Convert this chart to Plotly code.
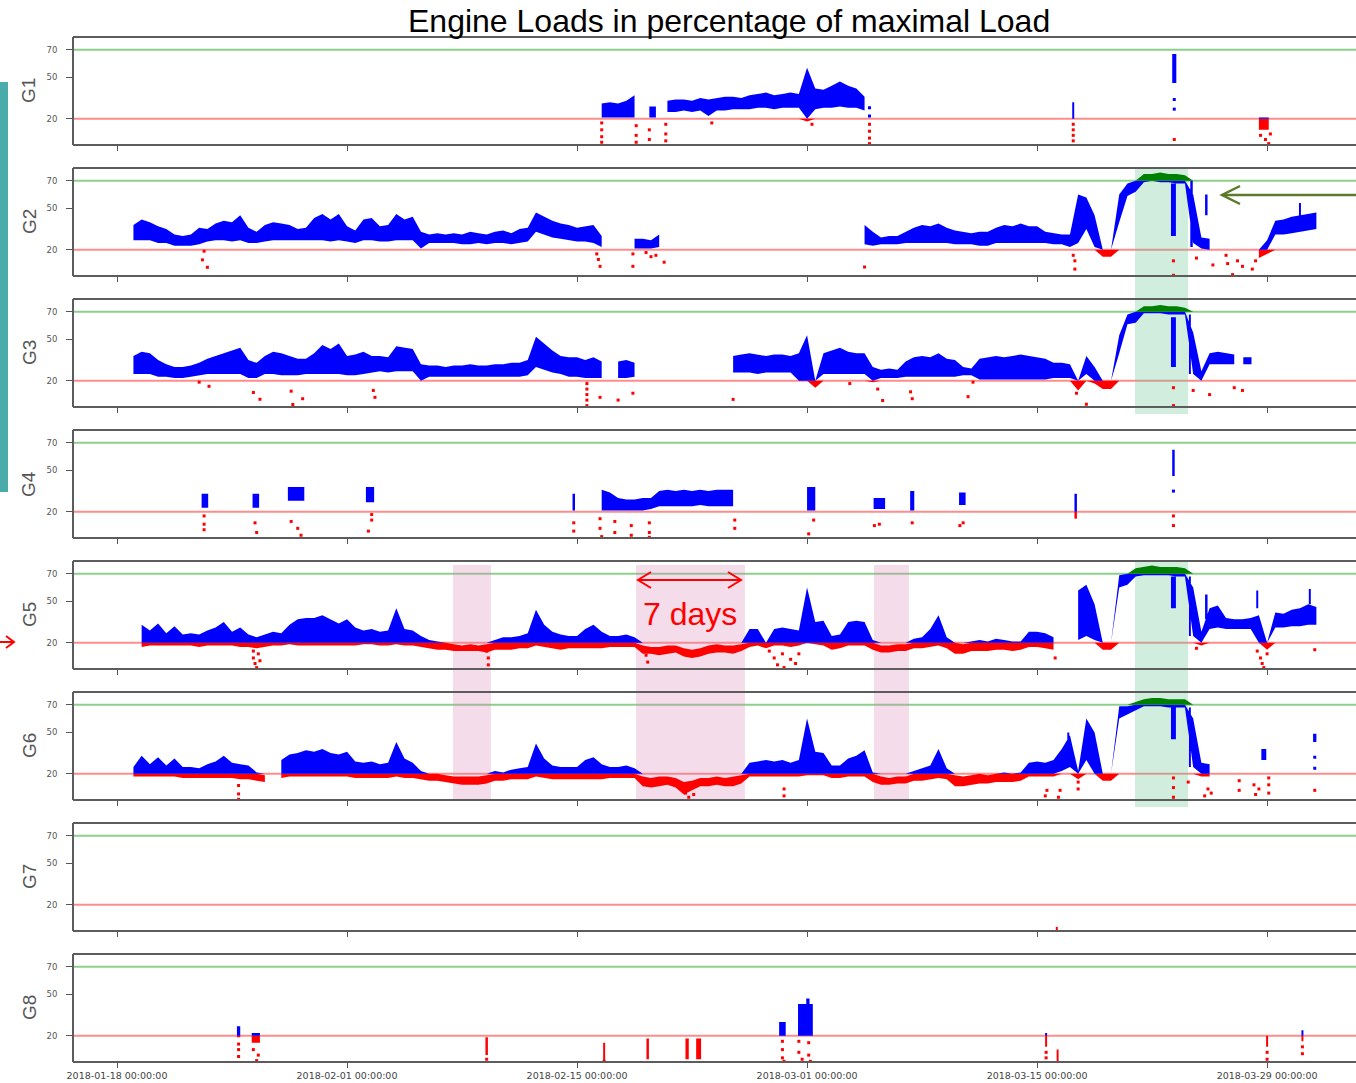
import pandas as pd
import plotly.graph_objects as go
from plotly.subplots import make_subplots

W, H = 1356, 1083
T0 = pd.Timestamp("2018-01-18")
STEP = 0.5  # band sampling step in days
N = None

# ---------------- data (days after 2018-01-18, load in % of max) ----------------
G1_band_start = 29.5
G1_band_low = [21, 21, 21, 21, 21, N, N, N, 25, 25, 26, 25, 26, 22, 26, 26, 27, 27, 27, 28,
               28, 27, 28, 28, 28, 18, 27, 28, 28, 29, 28, 28, 26]
G1_band_high = [31, 32, 31, 33, 37, N, N, N, 33, 34, 34, 33, 35, 34, 35, 36, 36, 35, 37, 38,
                39, 37, 38, 39, 38, 57, 42, 41, 44, 47, 44, 42, 36]
G1_burst_day = [32.6, 64.35, 69.8, 58.2]
G1_burst_low = [21, 46, 12, 20]
G1_burst_high = [29, 67, 21, 32]
G1_burst_width = [0.4, 0.25, 0.6, 0.08]
G1_dot_day = [29.5, 29.5, 29.5, 29.5, 31.6, 31.6, 31.6, 32.4, 32.4, 33.4, 33.4, 33.4, 36.2, 42.3,
              45.8, 45.8, 45.8, 45.8, 45.8, 45.8, 58.2, 58.2, 58.2, 58.2, 64.35, 64.35, 64.35,
              69.6, 69.9, 70.2, 70.1]
G1_dot_val = [17, 12, 7, 3, 15, 8, 3, 12, 5, 16, 9, 4, 17, 16,
              28, 22, 16, 11, 6, 2, 16, 12, 8, 4, 34, 27, 5,
              8, 5, 9, 2]

G2_band_start = 1.0
G2_band_low = ([27, 27, 27, 25, 25, 23, 23, 23, 24, 26,
                27, 27, 26, 27, 25, 25, 26, 27, 27, 27,
                27, 27, 27, 27, 26, 27, 26, 25, 27, 27,
                26, 26, 27, 27, 27, 21, 25, 25, 25, 25,
                24, 24, 25, 24, 25, 25, 24, 25, 26, 33,
                31, 29, 28, 27, 26, 26, 25, 22, N, N,
                N, 21, 21, 21, 22] + [N] * 24 +
               [24, 23, 24, 24, 24, 25, 25, 25, 25, 25,
                25, 24, 24, 24, 23, 23, 25, 25, 25, 25,
                25, 25, 25, 24, 24, 22, 25, 35, 22, 15,
                15, 40, 59, 62, 69, 70, 69, 69, 68, 68,
                25, 21, 20] + [N] * 5 +
               [14, 17, 31, 31, 32, 33, 34, 35])
G2_band_high = ([38, 42, 40, 37, 35, 31, 30, 31, 36, 35,
                 39, 41, 40, 45, 36, 33, 38, 40, 39, 38,
                 35, 36, 43, 46, 42, 46, 37, 34, 42, 43,
                 37, 38, 46, 42, 44, 33, 31, 32, 31, 32,
                 31, 33, 32, 31, 33, 34, 32, 35, 36, 47,
                 44, 41, 39, 38, 36, 37, 38, 30, N, N,
                 N, 28, 28, 27, 31] + [N] * 24 +
                [38, 33, 29, 30, 30, 33, 36, 38, 37, 39,
                 36, 34, 33, 32, 33, 33, 36, 38, 37, 39,
                 37, 37, 33, 32, 31, 31, 60, 58, 45, 20,
                 20, 60, 68, 70, 75, 75, 76, 75, 75, 74,
                 60, 29, 28] + [N] * 5 +
                [20, 27, 41, 42, 44, 45, 46, 47])
G2_burst_day = [64.3, 65.4, 66.3, 72.0]
G2_burst_low = [30, 22, 45, 44]
G2_burst_high = [68, 70, 60, 54]
G2_burst_width = [0.3, 0.15, 0.15, 0.1]
G2_dot_day = [5.2, 5.5, 5.3, 29.2, 29.3, 29.4, 31.4, 31.4, 32.2, 32.5, 32.8, 33.3, 45.5, 58.3,
              58.3, 58.2, 64.3, 64.3, 65.7, 66.7, 67.5, 67.6, 67.9, 68.2, 68.5, 69.1, 69.3]
G2_dot_val = [12.7, 7.3, 19, 17, 13, 8, 8, 17, 18, 15, 16, 11, 7.5, 12,
              6, 16, 12, 1.5, 14, 9, 16, 10, 2, 12, 8, 6, 12]

G3_band_start = 1.0
G3_band_low = ([25, 25, 25, 23, 23, 22, 22, 23, 24, 25,
                25, 25, 25, 25, 22, 22, 25, 25, 24, 24,
                24, 25, 25, 25, 25, 25, 24, 24, 25, 26,
                27, 26, 27, 27, 27, 20, 23, 23, 23, 23,
                23, 23, 23, 23, 23, 23, 23, 23, 24, 30,
                28, 26, 25, 23, 23, 22, 22, 22, N, 22,
                22, 23] + [N] * 11 +
               [26, 26, 26, 25, 26, 26, 26, 26, 20, 20,
                15, 25, 25, 25, 25, 25, 25, 19, 22, 22,
                22, 23, 23, 23, 23, 23, 23, 23, 24, 24,
                21, 21, 21, 21, 21, 21, 21, 21, 21, 22,
                22, 22, 13, 25, 18, 14, 14, 40, 61, 62,
                69, 69, 69, 68, 68, 68, 25, 20, 32, 32,
                32, 32])
G3_band_high = ([38, 41, 40, 35, 32, 30, 30, 31, 33, 36,
                 38, 40, 42, 44, 35, 33, 38, 41, 40, 38,
                 36, 36, 40, 46, 43, 47, 38, 39, 41, 38,
                 38, 37, 45, 44, 43, 32, 31, 31, 30, 31,
                 31, 32, 31, 31, 32, 32, 33, 33, 35, 52,
                 47, 42, 38, 37, 37, 35, 37, 34, N, 34,
                 35, 33] + [N] * 11 +
                [38, 39, 40, 39, 38, 39, 39, 38, 40, 53,
                 20, 40, 42, 44, 41, 40, 40, 30, 28, 29,
                 28, 34, 37, 38, 37, 40, 36, 35, 30, 29,
                 36, 37, 38, 37, 38, 39, 38, 37, 36, 33,
                 33, 32, 20, 38, 30, 20, 20, 53, 68, 70,
                 74, 74, 75, 74, 74, 73, 55, 27, 40, 41,
                 40, 39])
G3_burst_day = [64.3, 65.3, 68.8]
G3_burst_low = [30, 25, 32]
G3_burst_high = [66, 68, 37]
G3_burst_width = [0.3, 0.12, 0.5]
G3_dot_day = [5.0, 5.6, 8.3, 8.7, 10.6, 10.7, 11.3, 15.6, 15.7, 28.6, 28.6, 28.6, 28.6, 28.6,
              29.4, 30.5, 31.4, 37.5, 44.6, 46.3, 46.6, 48.3, 48.4, 51.8, 52.1, 58.4, 59.0,
              65.5, 66.5, 68.0, 68.5, 64.3, 64.3]
G3_dot_val = [19, 16, 11.5, 6.6, 12.5, 2.8, 7, 13, 8, 18, 14, 10, 6, 2,
              8, 6, 11, 6.5, 18, 14, 5.7, 12, 7, 8.5, 19, 11, 3,
              13, 10, 15, 13, 15, 2]

G4_band_start = 29.5
G4_band_low = [21, 21, 21, 21, 21, 21, 22, 24, 24, 24, 24, 24, 25, 24, 24, 24, 24]
G4_band_high = [36, 34, 30, 29, 29, 30, 30, 35, 36, 35, 36, 35, 36, 35, 36, 36, 36]
G4_burst_day = [5.35, 8.45, 10.9, 15.4, 27.8, 42.25, 46.4, 48.4, 51.45, 58.35, 64.3]
G4_burst_low = [23, 23, 28, 27, 21, 21, 22, 21, 25, 15, 46]
G4_burst_high = [33, 33, 38, 38, 33, 38, 30, 35, 34, 33, 65]
G4_burst_width = [0.4, 0.4, 1.0, 0.5, 0.15, 0.5, 0.7, 0.25, 0.4, 0.15, 0.15]
G4_dot_day = [5.3, 5.3, 5.3, 8.4, 8.5, 10.6, 11.0, 11.2, 15.5, 15.5, 15.3, 27.8, 27.8, 29.4,
              29.4, 29.5, 30.3, 30.3, 31.3, 31.3, 32.4, 32.4, 32.4, 37.6, 37.6, 42.4, 42.1,
              46.1, 46.4, 48.4, 51.3, 51.5, 64.3, 64.3, 64.3]
G4_dot_val = [17, 11, 7, 12, 5, 13, 8, 3, 18, 14, 6, 12, 6, 15,
              8, 2, 13, 5, 10, 3, 12, 5, 1.5, 14, 8, 14, 4,
              10, 11, 12, 10, 12, 35, 17, 10]

G5_band_start = 1.5
G5_band_low = [17, 18, 18, 18, 18, 18, 18, 17, 18, 18,
               18, 18, 17, 17, 16, 17, 18, 18, 19, 18,
               18, 18, 18, 18, 18, 18, 18, 19, 19, 18,
               18, 19, 18, 18, 17, 16, 15, 15, 14, 14,
               14, 14, 13, 15, 15, 15, 16, 16, 18, 17,
               16, 15, 16, 16, 16, 16, 16, 17, 17, 17,
               17, 12, 12, 11, 12, 13, 10, 9, 10, 12,
               13, 13, 12, 14, 17, 18, 16, 18, 18, 17,
               18, 20, 19, 18, 15, 16, 18, 18, 18, 15,
               13, 13, 14, 14, 16, 16, 17, 18, 16, 12,
               12, 14, 14, 14, 15, 15, 14, 15, 17, 17,
               16, 15, N, N, 22, 25, 22, 15, 15, 60,
               62, 68, 69, 69, 69, 69, 68, 68, 25, 18,
               30, 31, 30, 30, 30, 30, 20, 15, 31, 31,
               32, 32, 33, 33]
G5_band_high = [33, 29, 34, 27, 32, 26, 27, 26, 29, 31,
                35, 28, 31, 26, 24, 26, 28, 27, 33, 37,
                38, 38, 40, 37, 34, 37, 31, 29, 30, 28,
                29, 45, 30, 29, 25, 22, 21, 20, 19, 18,
                19, 18, 19, 22, 24, 24, 25, 27, 44, 33,
                28, 26, 25, 25, 30, 33, 28, 25, 25, 26,
                24, 18, 17, 17, 18, 18, 16, 15, 16, 18,
                19, 18, 18, 19, 30, 30, 20, 30, 31, 30,
                29, 60, 35, 36, 25, 26, 35, 36, 35, 22,
                18, 18, 19, 19, 23, 24, 30, 40, 24, 20,
                19, 21, 22, 21, 23, 22, 21, 21, 28, 28,
                27, 24, N, N, 58, 62, 48, 20, 20, 69,
                70, 74, 75, 76, 75, 75, 75, 74, 60, 28,
                45, 47, 38, 37, 37, 38, 40, 20, 42, 41,
                44, 45, 48, 46]
G5_burst_day = [64.3, 65.3, 66.3, 69.4, 72.6]
G5_burst_low = [45, 25, 37, 45, 48]
G5_burst_high = [68, 68, 55, 58, 59]
G5_burst_width = [0.3, 0.12, 0.15, 0.08, 0.1]
G5_dot_day = [8.3, 8.3, 8.4, 8.5, 8.6, 8.7, 22.5, 22.6, 22.6, 32.2, 32.3, 39.7, 40.0, 40.2,
              40.5, 40.6, 41.0, 41.3, 41.5, 57.1, 65.7, 69.4, 69.6, 69.7, 69.8, 70.0, 72.9]
G5_dot_val = [14, 9, 5, 2, 12, 7, 14, 9, 4, 11, 6, 14, 9, 4,
              12, 2, 8, 5, 12, 9, 16, 14, 9, 5, 2, 12, 15]

G6_band_start = 1.0
G6_band_low = [18, 18, 18, 18, 18, 18, 17, 17, 17, 17,
               17, 17, 17, 16, 16, 15, 14, N, 17, 18,
               18, 18, 18, 18, 18, 18, 18, 17, 17, 17,
               17, 17, 18, 17, 17, 16, 15, 15, 14, 13,
               12, 12, 12, 13, 15, 15, 16, 16, 16, 18,
               17, 16, 16, 16, 16, 16, 16, 16, 17, 17,
               17, 17, 11, 10, 11, 12, 10, 5, 8, 11,
               11, 12, 11, 11, 13, 18, 18, 18, 18, 18,
               18, 18, 19, 19, 19, 17, 17, 18, 18, 18,
               14, 12, 12, 13, 13, 15, 15, 16, 17, 16,
               11, 11, 12, 13, 13, 14, 14, 14, 15, 18,
               18, 18, 18, 22, 25, 16, 30, 20, 15, 15,
               60, 63, 66, 69, 69, 69, 68, 68, 68, 25,
               18, 18]
G6_band_high = [25, 33, 27, 32, 26, 31, 25, 25, 24, 27,
                29, 33, 28, 27, 26, 21, 19, N, 30, 34,
                35, 37, 36, 38, 35, 34, 36, 29, 28, 29,
                27, 28, 43, 31, 28, 22, 20, 20, 19, 18,
                18, 18, 18, 19, 22, 21, 23, 24, 25, 42,
                31, 26, 25, 25, 25, 30, 32, 27, 25, 25,
                26, 24, 18, 17, 18, 18, 17, 14, 15, 17,
                17, 18, 17, 18, 19, 28, 29, 30, 29, 30,
                28, 30, 60, 36, 35, 26, 26, 31, 33, 37,
                21, 18, 17, 18, 18, 22, 24, 26, 38, 24,
                19, 18, 19, 20, 19, 20, 21, 20, 21, 28,
                29, 28, 30, 38, 48, 22, 60, 50, 20, 20,
                69, 69, 72, 74, 75, 75, 74, 74, 74, 60,
                28, 27]
G6_burst_day = [64.3, 65.3, 69.8, 72.9, 57.9]
G6_burst_low = [45, 25, 30, 43, 38]
G6_burst_high = [68, 68, 38, 49, 50]
G6_burst_width = [0.3, 0.12, 0.3, 0.2, 0.1]
G6_dot_day = [7.4, 7.4, 7.4, 34.6, 34.8, 35.1, 40.6, 40.6, 56.5, 56.6, 57.3, 57.4, 58.5, 58.5,
              64.3, 64.3, 64.3, 65.2, 66.2, 66.4, 66.6, 68.3, 68.3, 69.2, 69.3, 69.5, 70.1,
              70.1, 70.1, 72.9, 72.9, 72.9]
G6_dot_val = [11.5, 5.4, 1.5, 6, 3, 5, 4, 9, 4, 8, 3, 8, 9, 14,
              3, 10, 17, 14, 4, 9, 6, 15, 8, 12, 5, 9, 17,
              12, 6, 8, 32, 24]

G7_burst_day = [57.2]
G7_burst_low = [1.5]
G7_burst_high = [4]
G7_burst_width = [0.12]

G8_burst_day = [7.4, 8.45, 22.5, 29.65, 32.3, 34.7, 35.4, 40.5, 41.9, 42.05, 56.55, 57.25,
                70.0, 72.15]
G8_burst_low = [19, 15, 6, 2, 3, 3, 3, 20, 20, 30, 12, 1, 12, 16]
G8_burst_high = [27, 22, 19, 15, 18, 18, 18, 30, 43, 47, 22, 10, 20, 24]
G8_burst_width = [0.2, 0.5, 0.15, 0.12, 0.15, 0.2, 0.3, 0.4, 0.9, 0.2, 0.1, 0.12, 0.12, 0.12]
G8_dot_day = [7.4, 7.4, 7.4, 8.3, 8.6, 8.5, 22.5, 29.65, 40.5, 40.5, 40.5, 40.6, 41.5, 41.5,
              41.7, 42.1, 42.1, 42.2, 56.55, 56.55, 70.0, 70.0, 72.15, 72.15]
G8_dot_val = [14, 10, 5, 10, 6, 2, 3, 1.5, 16, 10, 4, 1.5, 16, 8,
              3, 15, 6, 1.5, 8, 4, 8, 3, 12, 7]

GENS = ["G1", "G2", "G3", "G4", "G5", "G6", "G7", "G8"]
BANDS = {
    "G1": (G1_band_start, G1_band_low, G1_band_high),
    "G2": (G2_band_start, G2_band_low, G2_band_high),
    "G3": (G3_band_start, G3_band_low, G3_band_high),
    "G4": (G4_band_start, G4_band_low, G4_band_high),
    "G5": (G5_band_start, G5_band_low, G5_band_high),
    "G6": (G6_band_start, G6_band_low, G6_band_high),
}
BURSTS = {
    "G1": (G1_burst_day, G1_burst_low, G1_burst_high, G1_burst_width),
    "G2": (G2_burst_day, G2_burst_low, G2_burst_high, G2_burst_width),
    "G3": (G3_burst_day, G3_burst_low, G3_burst_high, G3_burst_width),
    "G4": (G4_burst_day, G4_burst_low, G4_burst_high, G4_burst_width),
    "G5": (G5_burst_day, G5_burst_low, G5_burst_high, G5_burst_width),
    "G6": (G6_burst_day, G6_burst_low, G6_burst_high, G6_burst_width),
    "G7": (G7_burst_day, G7_burst_low, G7_burst_high, G7_burst_width),
    "G8": (G8_burst_day, G8_burst_low, G8_burst_high, G8_burst_width),
}
DOTS = {
    "G1": (G1_dot_day, G1_dot_val), "G2": (G2_dot_day, G2_dot_val),
    "G3": (G3_dot_day, G3_dot_val), "G4": (G4_dot_day, G4_dot_val),
    "G5": (G5_dot_day, G5_dot_val), "G6": (G6_dot_day, G6_dot_val),
    "G8": (G8_dot_day, G8_dot_val),
}

TICK_DAYS = [0, 14, 28, 42, 56, 70]
LOW_LIMIT, HIGH_LIMIT = 20, 70
COLOR_LOW, COLOR_MID, COLOR_HIGH = "#ff0000", "#0000ff", "#008000"
CLIPS = [(0, LOW_LIMIT, COLOR_LOW), (LOW_LIMIT, HIGH_LIMIT, COLOR_MID), (HIGH_LIMIT, 100, COLOR_HIGH)]


def ts(d):
    return (T0 + pd.Timedelta(days=d)).strftime("%Y-%m-%d %H:%M:%S")


def clip(v, a, b):
    return min(max(v, a), b)


def band_polys(start, lows, highs, ca, cb):
    xs, ys = [], []

    def flush(run):
        if not run:
            return
        if len(run) == 1:
            d, l, h = run[0]
            run = [(d - 0.12, l, h), (d + 0.12, l, h)]
        lo = [clip(r[1], ca, cb) for r in run]
        hi = [clip(r[2], ca, cb) for r in run]
        if max(b - a for a, b in zip(lo, hi)) <= 0:
            return
        dd = [r[0] for r in run]
        xs.extend([ts(d) for d in dd + dd[::-1] + [dd[0]]] + [None])
        ys.extend(lo + hi[::-1] + [lo[0]] + [None])

    run = []
    for i, (l, h) in enumerate(zip(lows, highs)):
        d = start + STEP * i
        if l is None or h is None:
            flush(run)
            run = []
        else:
            run.append((d, l, h))
    flush(run)
    return xs, ys


def burst_polys(days, lows, highs, widths, ca, cb):
    xs, ys = [], []
    for d, l, h, w in zip(days, lows, highs, widths):
        lo, hi = clip(l, ca, cb), clip(h, ca, cb)
        if hi - lo <= 0:
            continue
        w = max(w, 0.12)
        xx = [d - w / 2, d + w / 2, d + w / 2, d - w / 2, d - w / 2]
        xs.extend([ts(x) for x in xx] + [None])
        ys.extend([lo, lo, hi, hi, lo, None])
    return xs, ys


def color_of(v):
    if v < LOW_LIMIT:
        return COLOR_LOW
    if v > HIGH_LIMIT:
        return COLOR_HIGH
    return COLOR_MID


fig = make_subplots(rows=8, cols=1, shared_xaxes=True)

for r, g in enumerate(GENS, start=1):
    for ca, cb, col in CLIPS:
        xs, ys = [], []
        if g in BANDS:
            bx, by = band_polys(*BANDS[g], ca, cb)
            xs += bx
            ys += by
        if g in BURSTS:
            bx, by = burst_polys(*BURSTS[g], ca, cb)
            xs += bx
            ys += by
        if xs:
            fig.add_trace(go.Scatter(x=xs, y=ys, mode="lines", fill="toself", fillcolor=col,
                                     line=dict(width=0, color=col), hoverinfo="skip",
                                     showlegend=False), row=r, col=1)
    if g in DOTS:
        dd, vv = DOTS[g]
        fig.add_trace(go.Scatter(x=[ts(d) for d in dd], y=vv, mode="markers",
                                 marker=dict(size=3, symbol="square", color=[color_of(v) for v in vv]),
                                 hoverinfo="skip", showlegend=False), row=r, col=1)


def px_x(x):
    return x / W


def px_y(y):
    return 1 - y / H


X_LEFT, PANEL_TOP, PANEL_H, PANEL_GAP = 73, 37, 108, 131
x_range = [ts((X_LEFT - 117) / 16.43), ts((W - 117) / 16.43)]
TICK_FONT_X = dict(size=9.5, color="#444", family="DejaVu Sans")
TICK_FONT_Y = dict(size=8.5, color="#555", family="DejaVu Sans")

shapes = []
annotations = []
for i, g in enumerate(GENS):
    r = i + 1
    top = PANEL_TOP + PANEL_GAP * i
    bot = top + PANEL_H
    ax = "" if r == 1 else str(r)
    fig.update_layout(**{
        f"xaxis{ax}": dict(domain=[px_x(X_LEFT), 1], range=x_range, showgrid=False, zeroline=False,
                           showline=False, tickmode="array", tickvals=[ts(d) for d in TICK_DAYS],
                           ticktext=[ts(d) for d in TICK_DAYS], ticks="outside", ticklen=5,
                           tickwidth=1, tickcolor="#555", showticklabels=(r == 8),
                           tickfont=TICK_FONT_X, automargin=False),
        f"yaxis{ax}": dict(domain=[px_y(bot), px_y(top)], range=[1.0, 79.3], showgrid=False,
                           zeroline=False, showline=False, tickmode="array",
                           tickvals=[20, 50, 70], ticks="outside", ticklen=6, tickwidth=1,
                           tickcolor="#555", ticklabelstandoff=7, tickfont=TICK_FONT_Y,
                           automargin=False),
    })
    xr, yr = f"x{ax}", f"y{ax}"
    for lvl, lc in [(LOW_LIMIT, "rgba(255,0,0,0.45)"), (HIGH_LIMIT, "rgba(0,150,0,0.45)")]:
        shapes.append(dict(type="line", xref=f"{xr} domain", yref=yr, x0=0, x1=1, y0=lvl, y1=lvl,
                           line=dict(color=lc, width=2), layer="below"))
    fr = dict(color="#5c5c5c", width=2)
    shapes.append(dict(type="line", xref=f"{xr} domain", yref=f"{yr} domain", x0=0, x1=1, y0=1, y1=1, line=fr))
    shapes.append(dict(type="line", xref=f"{xr} domain", yref=f"{yr} domain", x0=0, x1=1, y0=0, y1=0, line=fr))
    shapes.append(dict(type="line", xref=f"{xr} domain", yref=f"{yr} domain", x0=0, x1=0, y0=0, y1=1, line=fr))
    annotations.append(dict(text=g, xref="paper", yref="paper", x=px_x(29), y=px_y((top + bot) / 2),
                            textangle=-90, showarrow=False, xanchor="center", yanchor="middle",
                            font=dict(size=19, color="#555", family="Liberation Sans")))

# highlight regions (green: high-load period; pink: low-load periods)
GREEN_SPAN = (61.96, 65.19)
PINK_SPANS = [(20.45, 22.76), (31.59, 38.22), (46.07, 48.2)]
for y0, y1 in [(168, 414), (561, 807)]:
    shapes.append(dict(type="rect", xref="x", yref="paper", x0=ts(GREEN_SPAN[0]), x1=ts(GREEN_SPAN[1]),
                       y0=px_y(y1), y1=px_y(y0), fillcolor="rgba(110,200,150,0.32)", line=dict(width=0),
                       layer="below"))
for a, b in PINK_SPANS:
    shapes.append(dict(type="rect", xref="x", yref="paper", x0=ts(a), x1=ts(b),
                       y0=px_y(800), y1=px_y(565), fillcolor="rgba(215,130,180,0.28)", line=dict(width=0),
                       layer="below"))

# teal side bar
shapes.append(dict(type="rect", xref="paper", yref="paper", x0=0, x1=px_x(8), y0=px_y(492), y1=px_y(82),
                   fillcolor="#4aabab", line=dict(width=0)))


def pline(pts, color, width):
    path = "M " + " L ".join(f"{px_x(x)},{px_y(y)}" for x, y in pts)
    return dict(type="path", xref="paper", yref="paper", path=path, line=dict(color=color, width=width))


# left red arrow
shapes.append(pline([(0, 642), (14, 642)], "#ff0000", 2))
shapes.append(pline([(6, 636), (14, 642), (6, 648)], "#ff0000", 2))
# green arrow on right
OLIVE = "#5b7a2b"
shapes.append(pline([(1222, 195), (1356, 195)], OLIVE, 2.5))
shapes.append(pline([(1240, 186), (1222, 195), (1240, 204)], OLIVE, 2.5))
# double arrow "7 days"
shapes.append(pline([(638, 580), (741, 580)], "#ff0000", 2))
shapes.append(pline([(651, 572), (638, 580), (651, 588)], "#ff0000", 2))
shapes.append(pline([(728, 572), (741, 580), (728, 588)], "#ff0000", 2))

annotations.append(dict(text="7 days", xref="paper", yref="paper", x=px_x(690), y=px_y(614),
                        showarrow=False, xanchor="center", yanchor="middle",
                        font=dict(size=32, color="#ff0000", family="Liberation Sans")))
annotations.append(dict(text="Engine Loads in percentage of maximal Load", xref="paper", yref="paper",
                        x=px_x(729), y=px_y(21), showarrow=False, xanchor="center", yanchor="middle",
                        font=dict(size=32, color="#000", family="Liberation Sans")))

fig.update_layout(width=W, height=H, margin=dict(l=0, r=0, t=0, b=0, autoexpand=False),
                  paper_bgcolor="white", plot_bgcolor="rgba(0,0,0,0)",
                  shapes=shapes, annotations=annotations, showlegend=False)

fig.write_html("out.html")
